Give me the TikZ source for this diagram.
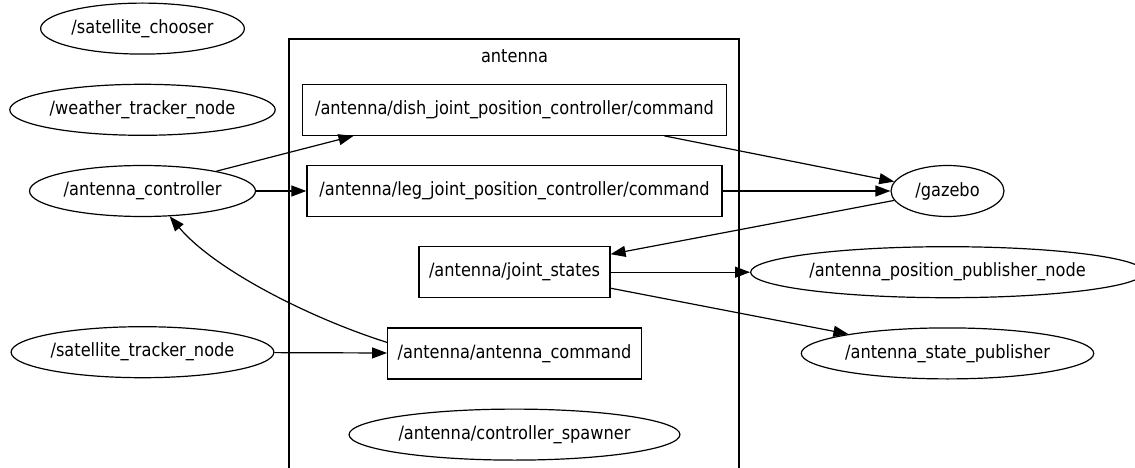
\documentclass[tikz,border=0pt]{standalone}
\usepackage{fontspec}
\setmainfont[FakeStretch=0.885]{DejaVu Sans}
\usepackage{tikz}
\usetikzlibrary{shapes,arrows,positioning,calc,shapes.geometric,arrows.meta}

\begin{document}
\begin{tikzpicture}[
    x=1pt, y=-1pt,
    node distance=29pt,
    font=\fontsize{18.3}{21}\selectfont,
    topic/.style={rectangle, draw=black, line width=1.2pt, minimum height=51pt, inner xsep=10pt, text centered},
    rosnode/.style={ellipse, draw=black, line width=1.2pt, minimum height=51pt, inner xsep=1pt, text centered},
    arrow/.style={-{Triangle[length=15pt,width=11pt]}, line width=1.2pt}
]
    \useasboundingbox (0,0) rectangle (1135,468);
    \clip (0,0) rectangle (1135,468);

    % cluster
    \draw[line width=1.2pt] (289,39) rectangle (739,490);
    \node (clustername) at (514.5,56) {antenna};

    % left column
    \node[rosnode] (ctrl) at (142.5,191) {/antenna\_controller};
    \node[rosnode, above=of ctrl] (weather) {/weather\_tracker\_node};
    \node[rosnode, above=of weather] (chooser) {/satellite\_chooser};
    \node[rosnode, below=109pt of ctrl] (sattrack) {/satellite\_tracker\_node};

    % topics
    \node[topic, inner xsep=12.5pt] (leg) at (514.5,191) {/antenna/leg\_joint\_position\_controller/command};
    \node[topic, inner xsep=12.5pt, above=of leg] (dish) {/antenna/dish\_joint\_position\_controller/command};
    \node[topic, below=of leg] (joint) {/antenna/joint\_states};
    \node[topic, below=of joint] (cmd) {/antenna/antenna\_command};
    \node[rosnode, below=of cmd] (spawner) {/antenna/controller\_spawner};

    % right column
    \node[rosnode, minimum width=113pt] (gazebo) at (947.5,191) {/gazebo};
    \node[rosnode, below=of gazebo] (pospub) {/antenna\_position\_publisher\_node};
    \node[rosnode, below=of pospub] (statepub) {/antenna\_state\_publisher};

    \draw[arrow] (ctrl.15) -- ([xshift=-161pt]dish.south);
    \draw[arrow] (ctrl) -- (leg);
    \draw[arrow] ([xshift=150pt]dish.south) -- (gazebo.170);
    \draw[arrow] (leg) -- (gazebo);
    \draw[arrow] (gazebo.190) -- ([yshift=18pt]joint.east);
    \draw[arrow] (joint) -- (pospub);
    \draw[arrow] ([yshift=-16pt]joint.east) -- (statepub.169);
    \draw[arrow] (sattrack) -- (cmd);
    \draw[arrow] ([yshift=11pt]cmd.west) .. controls (310,318) and (215,270) .. (ctrl.-43);
\end{tikzpicture}
\end{document}
